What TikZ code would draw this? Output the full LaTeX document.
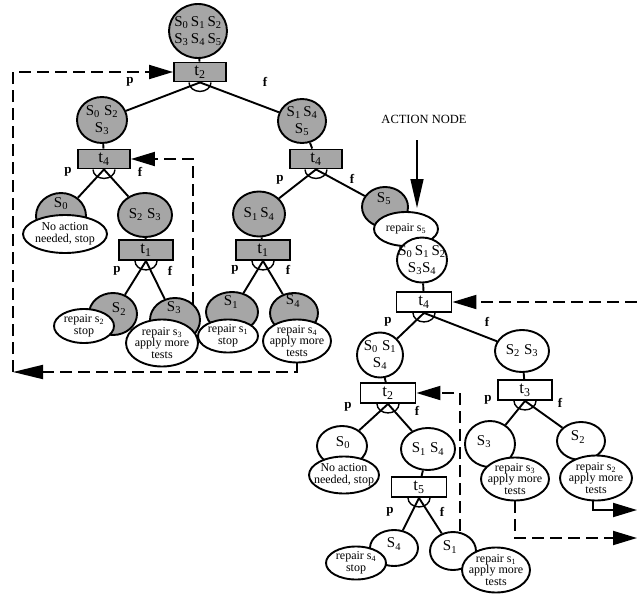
\documentclass[tikz,border=0pt]{standalone}
\usepackage{fontspec}
\setmainfont{Liberation Serif}
\usetikzlibrary{shapes.geometric,arrows.meta,calc}
\newcommand\Sv[1]{S\textsubscript{#1}}
\newcommand\sv[1]{s\textsubscript{#1}}
\newcommand\tv[1]{t\textsubscript{#1}}
\begin{document}
\begin{tikzpicture}[x=1pt,y=-1pt,
 st/.style={ellipse,draw,line width=1.9pt,fill=black!35,inner sep=0pt},
 stw/.style={st,fill=white},
 tb/.style={rectangle,draw,line width=1.9pt,fill=black!35,inner sep=0pt,minimum width=52pt,minimum height=19pt,font=\fontsize{17}{17}\selectfont},
 tbw/.style={tb,fill=white,minimum width=55pt,minimum height=20pt},
 act/.style={ellipse,draw,line width=1.9pt,fill=white,inner sep=0pt},
 acttxt/.style={align=center,font=\fontsize{12}{11.5}\selectfont,inner sep=0pt},
 sttxt/.style={align=center,font=\fontsize{15}{17}\selectfont,inner sep=0pt},
 lab/.style={font=\bfseries\fontsize{13}{13}\selectfont,inner sep=0pt},
 edge/.style={line width=1.9pt},
 dloop/.style={line width=1.9pt,dash pattern=on 12pt off 6pt},
 tip/.style={-{Triangle[length=24pt,width=14pt]}},
 andarc/.style={line width=1.4pt}
]
\useasboundingbox (0,0) rectangle (637,594);

% ---- state circles (shaded part) ----
\node[st,minimum width=58pt,minimum height=54pt] (root) at (198,31) {};
\node[tb] (t2a) at (200,72) {\tv2};
\node[st,minimum width=50pt,minimum height=46pt] (A1) at (102,120) {};
\node[tb] (t4a) at (104,159) {\tv4};
\node[st,minimum width=50pt,minimum height=46pt] (A2) at (61,216) {};
\node[st,minimum width=54pt,minimum height=44pt] (A3) at (145,215) {};
\node[tb,minimum width=54pt,minimum height=20pt] (t1a) at (146,250) {\tv1};
\node[st,minimum width=48pt,minimum height=42pt] (A4) at (113,314) {};
\node[st,minimum width=50pt,minimum height=44pt] (A5) at (175,320) {};
\node[st,minimum width=48pt,minimum height=44pt] (B1) at (302,121) {};
\node[tb] (t4b) at (316,159) {\tv4};
\node[st,minimum width=52pt,minimum height=45pt] (B2) at (259,214) {};
\node[tb,minimum width=54pt,minimum height=20pt] (t1b) at (263,250) {\tv1};
\node[st,minimum width=52pt,minimum height=40pt] (B3) at (232,312) {};
\node[st,minimum width=48pt,minimum height=40pt] (B4) at (294,313) {};
\node[st,minimum width=46pt,minimum height=40pt] (C1) at (385,207) {};

% ---- state circles (white part) ----
\node[tbw] (t4c) at (424,302) {\tv4};
\node[stw,minimum width=46pt,minimum height=45pt] (D1) at (380,355) {};
\node[tbw] (t2c) at (388,393) {\tv2};
\node[stw,minimum width=50pt,minimum height=40pt] (D2) at (342,446) {};
\node[stw,minimum width=54pt,minimum height=42pt] (D3) at (428,449) {};
\node[tbw] (t5) at (419,487) {\tv5};
\node[stw,minimum width=48pt,minimum height=36pt] (D4) at (394,548) {};
\node[stw,minimum width=46pt,minimum height=38pt] (D5) at (453,551) {};
\node[stw,minimum width=54pt,minimum height=42pt] (F1) at (522,351) {};
\node[tbw,minimum width=54pt] (t3) at (525,390) {\tv3};
\node[stw,minimum width=50pt,minimum height=46pt] (F2) at (490,444) {};
\node[stw,minimum width=48pt,minimum height=38pt] (F3) at (581,441) {};

% ---- action ellipses ----
\node[act,minimum width=84pt,minimum height=38pt] (E1) at (65,234) {};
\node[act,minimum width=60pt,minimum height=34pt] (E2) at (84,326) {};
\node[act,minimum width=72pt,minimum height=47pt] (E3) at (162,343) {};
\node[act,minimum width=60pt,minimum height=33pt] (E4) at (228,336) {};
\node[act,minimum width=68pt,minimum height=43pt] (E5) at (297,341) {};
\node[act,minimum width=64pt,minimum height=34pt] (E6) at (406,229) {};
\node[act,minimum width=70pt,minimum height=37pt] (E7) at (344,475) {};
\node[act,minimum width=60pt,minimum height=33pt] (E8) at (356,563) {};
\node[act,minimum width=68pt,minimum height=45pt] (E9) at (496,570) {};
\node[act,minimum width=68pt,minimum height=43pt] (E10) at (515,479) {};
\node[act,minimum width=72pt,minimum height=45pt] (E11) at (596,478) {};
\node[stw,minimum width=50pt,minimum height=45pt] (C2) at (422,260) {};

% ---- state texts ----
\node[sttxt] (rootT) at (198,31) {\Sv0\,\Sv1\,\Sv2\\\Sv3\,\Sv4\,\Sv5};
\node[sttxt] (A1T) at (102,120) {\Sv0\;\Sv2\\\Sv3};
\node[sttxt] (A2T) at (61,204) {\Sv0};
\node[sttxt] (A3T) at (145,215) {\Sv2\;\Sv3};
\node[sttxt] (A4T) at (119,309) {\Sv2};
\node[sttxt] (A5T) at (174,308) {\Sv3};
\node[sttxt] (B1T) at (302,121) {\Sv1\,\Sv4\\\Sv5};
\node[sttxt] (B2T) at (259,214) {\Sv1\,\Sv4};
\node[sttxt] (B3T) at (231,302) {\Sv1};
\node[sttxt] (B4T) at (293,301) {\Sv4};
\node[sttxt] (C1T) at (384,199) {\Sv5};
\node[sttxt] (C2T) at (422,260) {\Sv0\,\Sv1\,\Sv2\\\Sv3\Sv4};
\node[sttxt] (D1T) at (380,355) {\Sv0\;\Sv1\\\Sv4};
\node[sttxt] (D2T) at (343,443) {\Sv0};
\node[sttxt] (D3T) at (428,449) {\Sv1\;\Sv4};
\node[sttxt] (D4T) at (394,544) {\Sv4};
\node[sttxt] (D5T) at (450,547) {\Sv1};
\node[sttxt] (F1T) at (522,351) {\Sv2\;\Sv3};
\node[sttxt] (F2T) at (484,442) {\Sv3};
\node[sttxt] (F3T) at (578,437) {\Sv2};

% ---- action texts ----
\node[acttxt] (E1T) at (E1) {No action\\needed, stop};
\node[acttxt] (E2T) at (E2) {repair \sv2\\stop};
\node[acttxt] (E3T) at (E3) {repair \sv3\\apply more\\tests};
\node[acttxt] (E4T) at (E4) {repair \sv1\\stop};
\node[acttxt] (E5T) at (E5) {repair \sv4\\apply more\\tests};
\node[acttxt] (E6T) at (E6) {repair \sv5};
\node[acttxt] (E7T) at (E7) {No action\\needed, stop};
\node[acttxt] (E8T) at (E8) {repair \sv4\\stop};
\node[acttxt] (E9T) at (E9) {repair \sv1\\apply more\\tests};
\node[acttxt] (E10T) at (E10) {repair \sv3\\apply more\\tests};
\node[acttxt] (E11T) at (E11) {repair \sv2\\apply more\\tests};

% ---- tree edges ----
\draw[edge] (root) -- (t2a);
\draw[edge] (t2a.south) -- (A1);
\draw[edge] (t2a.south) -- (B1);
\draw[edge] (A1) -- (t4a);
\draw[edge] (t4a.south) -- (A2);
\draw[edge] (t4a.south) -- (A3);
\draw[edge] (A3) -- (t1a);
\draw[edge] (t1a.south) -- (A4);
\draw[edge] (t1a.south) -- (A5);
\draw[edge] (B1) -- (t4b);
\draw[edge] (t4b.south) -- (B2);
\draw[edge] (t4b.south) -- (C1);
\draw[edge] (B2) -- (t1b);
\draw[edge] (t1b.south) -- (B3);
\draw[edge] (t1b.south) -- (B4);
\draw[edge] (C2) -- (t4c);
\draw[edge] (t4c.south) -- (D1);
\draw[edge] (t4c.south) -- (F1);
\draw[edge] (D1) -- (t2c);
\draw[edge] (t2c.south) -- (D2);
\draw[edge] (t2c.south) -- (D3);
\draw[edge] (D3) -- (t5);
\draw[edge] (t5.south) -- (D4);
\draw[edge] (t5.south) -- (D5);
\draw[edge] (F1) -- (t3);
\draw[edge] (t3.south) -- (F2);
\draw[edge] (t3.south) -- (F3);

% ---- AND arcs ----
\foreach \b in {t2a,t4a,t1a,t4b,t1b,t4c,t2c,t5,t3}
  \draw[andarc] ([xshift=-11pt]\b.south) arc[start angle=180,end angle=360,x radius=11pt,y radius=9pt];

% ---- p / f labels ----
\node[lab] (p1) at (130,82) {p};   \node[lab] (f1) at (265,82) {f};
\node[lab] (p2) at (68,172) {p};   \node[lab] (f2) at (140,172) {f};
\node[lab] (p3) at (117,271) {p};  \node[lab] (f3) at (170,271) {f};
\node[lab] (p4) at (280,180) {p};  \node[lab] (f4) at (352,179) {f};
\node[lab] (p5) at (235,270) {p};  \node[lab] (f5) at (288,270) {f};
\node[lab] (p6) at (388,322) {p};  \node[lab] (f6) at (487,322) {f};
\node[lab] (p7) at (348,407) {p};  \node[lab] (f7) at (417,411) {f};
\node[lab] (p8) at (390,512) {p};  \node[lab] (f8) at (442,512) {f};
\node[lab] (p9) at (488,400) {p};  \node[lab] (f9) at (560,403) {f};

% ---- feedback loops ----
\coordinate (L1a) at (13,372);
\draw[dloop,-{Triangle[length=30pt,width=14pt]}] (E5.south) |- (L1a);
\draw[dloop,tip] (L1a) |- (t2a.west);
\draw[dloop,tip] (A5.north east) |- (t4a.east);
\draw[dloop,tip] ([xshift=7pt]D5.north) |- (t2c.east);
\coordinate (R1) at (637,302);
\draw[dloop,tip] (R1) -- (t4c.east);
\coordinate (R2) at (637,510);
\draw[edge,tip] ([xshift=-3pt]E11.south) |- (R2);
\coordinate (R3) at (637,538);
\draw[dloop,tip] (E10.south) |- (R3);

% ---- action node pointer ----
\node[font=\fontsize{12.5}{12.5}\selectfont,inner sep=1pt] (an) at (424,119) {ACTION NODE};
\coordinate (anTip) at (417,208);
\draw[line width=1.5pt,-{Triangle[length=29pt,width=13pt]}] ($(an.south -| anTip)+(0,16)$) -- (anTip);
\end{tikzpicture}
\end{document}
